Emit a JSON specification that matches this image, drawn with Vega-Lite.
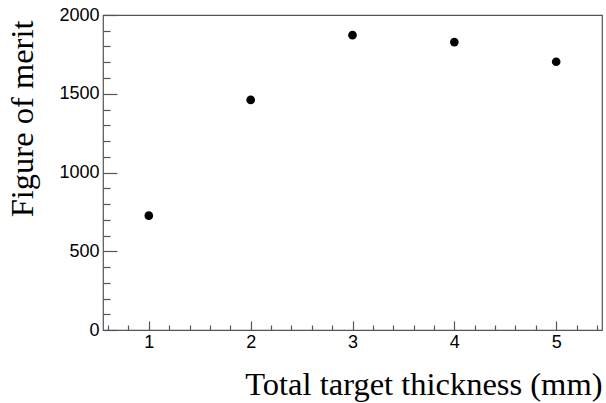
{
  "$schema": "https://vega.github.io/schema/vega-lite/v6.json",
  "autosize": "none",
  "padding": {"left": 103, "top": 15, "right": 4, "bottom": 73},
  "width": 499,
  "height": 315,
  "background": "white",
  "config": {
    "view": {"stroke": "#555555", "strokeWidth": 1.2},
    "axis": {"grid": false, "domain": false, "labelColor": "black", "tickColor": "#555555", "tickWidth": 1.2}
  },
  "data": {"values": [
    {"thickness": 1, "fom": 726},
    {"thickness": 2, "fom": 1461},
    {"thickness": 3, "fom": 1872},
    {"thickness": 4, "fom": 1828},
    {"thickness": 5, "fom": 1703}
  ]},
  "resolve": {"axis": {"x": "independent", "y": "independent"}},
  "layer": [
    {
      "mark": {"type": "point", "filled": true, "shape": "circle", "size": 75, "color": "black", "opacity": 1},
      "encoding": {
        "x": {"field": "thickness", "type": "quantitative", "scale": {"domain": [0.55, 5.45], "nice": false, "zero": false},
          "axis": {"orient": "bottom", "values": [1, 2, 3, 4, 5], "format": "d", "ticks": false, "labelPadding": 3, "labelFont": "Liberation Sans", "labelFontSize": 18,
            "title": "Total target thickness (mm)", "titleFont": "Liberation Serif", "titleFontSize": 32.5, "titleFontWeight": "normal", "titleColor": "black", "titleAnchor": "end", "titlePadding": 17}},
        "y": {"field": "fom", "type": "quantitative", "scale": {"domain": [0, 2000], "nice": false},
          "axis": {"orient": "left", "values": [0, 500, 1000, 1500, 2000], "format": "d", "ticks": false, "labelPadding": 4, "labelFont": "Liberation Sans", "labelFontSize": 18,
            "title": "Figure of merit", "titleFont": "Liberation Serif", "titleFontSize": 32.5, "titleFontWeight": "normal", "titleColor": "black", "titleAnchor": "end", "titleY": 5, "titlePadding": 19}}
      }
    },
    {
      "mark": {"type": "point", "opacity": 0},
      "encoding": {
        "x": {"field": "thickness", "type": "quantitative",
          "axis": {"orient": "bottom", "values": [1, 2, 3, 4, 5], "labels": false, "title": null, "tickSize": -9}},
        "y": {"field": "fom", "type": "quantitative",
          "axis": {"orient": "left", "values": [0, 500, 1000, 1500, 2000], "labels": false, "title": null, "tickSize": -14}}
      }
    },
    {
      "mark": {"type": "point", "opacity": 0},
      "encoding": {
        "x": {"field": "thickness", "type": "quantitative",
          "axis": {"orient": "bottom", "values": [0.6, 0.8, 1.2, 1.4, 1.6, 1.8, 2.2, 2.4, 2.6, 2.8, 3.2, 3.4, 3.6, 3.8, 4.2, 4.4, 4.6, 4.8, 5.2, 5.4], "labels": false, "title": null, "tickSize": -5}},
        "y": {"field": "fom", "type": "quantitative",
          "axis": {"orient": "left", "values": [100, 200, 300, 400, 600, 700, 800, 900, 1100, 1200, 1300, 1400, 1600, 1700, 1800, 1900], "labels": false, "title": null, "tickSize": -7}}
      }
    }
  ]
}
